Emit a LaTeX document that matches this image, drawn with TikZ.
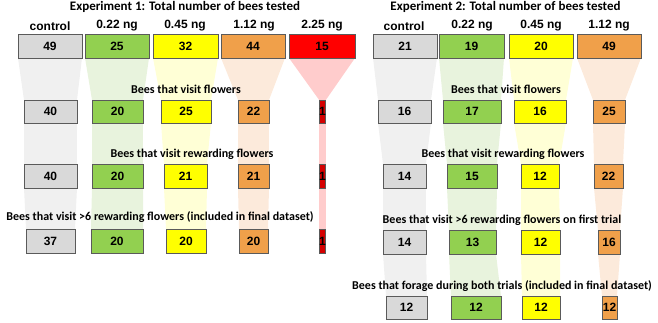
\documentclass[tikz,border=0pt]{standalone}
\usepackage{fontspec}
\setmainfont{Carlito}
\newfontfamily\arialb{Liberation Sans}
\usetikzlibrary{backgrounds}
\definecolor{cgray}{HTML}{D9D9D9}
\definecolor{cgreen}{HTML}{92D050}
\definecolor{cyellow}{HTML}{FFFF00}
\definecolor{corange}{HTML}{F0A04A}
\definecolor{cred}{HTML}{FF0000}
\definecolor{cdred}{HTML}{D40000}
\definecolor{fgray}{HTML}{F0F0F0}
\definecolor{fgreen}{HTML}{E8F3DD}
\definecolor{fyellow}{HTML}{FFFFD6}
\definecolor{forange}{HTML}{FCEADB}
\definecolor{fred}{HTML}{FFCCCC}
\definecolor{bord}{HTML}{5A5A5A}
\tikzset{
  numbox/.style={draw=bord, line width=0.9pt, inner sep=0pt, outer sep=0pt,
    font=\arialb\bfseries\fontsize{12}{12}\selectfont},
  collabel/.style={font=\arialb\bfseries\fontsize{12}{12}\selectfont, inner sep=0pt},
  steplabel/.style={font=\bfseries\fontsize{12}{12}\selectfont, inner sep=0pt},
  header/.style={font=\bfseries\fontsize{13}{13}\selectfont, inner sep=0pt},
}
\newcommand{\bx}[6]{\node[numbox, fill=#2, minimum width=#4pt, minimum height=#5pt] (#1) at (#3) {#6};}
\newcommand{\fun}[3]{\fill[#3] (#1.south west) -- (#1.south east) -- (#2.north east) -- (#2.north west) -- cycle;}
\begin{document}
\begin{tikzpicture}[x=1pt,y=-1pt]
\useasboundingbox (0,0) rectangle (658,322);
% headers
\node[header] (h1) at (185,7) {Experiment 1: Total number of bees tested};
\node[header] (h2) at (505.5,7) {Experiment 2: Total number of bees tested};
% column labels exp1
\node[collabel] (l1a) at (50,26) {control};
\node[collabel] (l1b) at (117,26) {0.22 ng};
\node[collabel] (l1c) at (185,26) {0.45 ng};
\node[collabel] (l1d) at (254,26) {1.12 ng};
\node[collabel] (l1e) at (322,26) {2.25 ng};
% column labels exp2
\node[collabel] (l2a) at (404,26) {control};
\node[collabel] (l2b) at (472,26) {0.22 ng};
\node[collabel] (l2c) at (541,26) {0.45 ng};
\node[collabel] (l2d) at (609,26) {1.12 ng};
% step labels exp1
\node[steplabel] (s1a) at (186,89) {Bees that visit flowers};
\node[steplabel] (s1b) at (192,154) {Bees that visit rewarding flowers};
\node[steplabel] (s1c) at (160,217) {Bees that visit >6 rewarding flowers (included in final dataset)};
% step labels exp2
\node[steplabel] (s2a) at (506,89) {Bees that visit flowers};
\node[steplabel] (s2b) at (503,154) {Bees that visit rewarding flowers};
\node[steplabel] (s2c) at (502,220) {Bees that visit >6 rewarding flowers on first trial};
\node[steplabel] (s2d) at (502,286) {Bees that forage during both trials (included in final dataset)};
% exp1 boxes
\bx{a1}{cgray}{50,46}{64}{24}{49}
\bx{b1}{cgreen}{117,46}{64}{24}{25}
\bx{c1}{cyellow}{185.5,46}{65}{24}{32}
\bx{d1}{corange}{253,46}{64}{24}{44}
\bx{e1}{cred}{322,46}{66}{24}{15}
\bx{a2}{cgray}{50.5,111.5}{53}{23}{40}
\bx{b2}{cgreen}{117.5,111.5}{51}{23}{20}
\bx{c2}{cyellow}{186,111.5}{50}{23}{25}
\bx{d2}{corange}{253.5,111.5}{31}{23}{22}
\bx{e2}{cdred}{322.5,111.5}{5}{23}{1}
\bx{a3}{cgray}{50.5,176}{53}{24}{40}
\bx{b3}{cgreen}{117.5,176}{51}{24}{20}
\bx{c3}{cyellow}{185.5,176}{43}{24}{21}
\bx{d3}{corange}{253.5,176}{31}{24}{21}
\bx{e3}{cdred}{322.5,176}{5}{24}{1}
\bx{a4}{cgray}{50.5,241}{49}{24}{37}
\bx{b4}{cgreen}{117,241}{52}{24}{20}
\bx{c4}{cyellow}{186,241}{40}{24}{20}
\bx{d4}{corange}{253.5,241}{29}{24}{20}
\bx{e4}{cdred}{322.5,241}{5}{24}{1}
% exp2 boxes
\bx{f1}{cgray}{405,46}{64}{24}{21}
\bx{g1}{cgreen}{471.5,46}{65}{24}{19}
\bx{h1}{cyellow}{541,46}{64}{24}{20}
\bx{i1}{corange}{609,46}{64}{24}{49}
\bx{f2}{cgray}{404.5,111.5}{53}{23}{16}
\bx{g2}{cgreen}{472,111.5}{58}{23}{17}
\bx{h2b}{cyellow}{540,111.5}{52}{23}{16}
\bx{i2}{corange}{609,111.5}{32}{23}{25}
\bx{f3}{cgray}{404.5,176}{43}{24}{14}
\bx{g3}{cgreen}{472,176}{50}{24}{15}
\bx{h3}{cyellow}{540,176}{38}{24}{12}
\bx{i3}{corange}{608.5,176}{29}{24}{22}
\bx{f4}{cgray}{404.5,242}{43}{24}{14}
\bx{g4}{cgreen}{472.5,242}{47}{24}{13}
\bx{h4}{cyellow}{540.5,242}{39}{24}{12}
\bx{i4}{corange}{609,242}{22}{24}{16}
\bx{f5}{cgray}{406.5,307.5}{41}{23}{12}
\bx{g5}{cgreen}{476,307.5}{50}{23}{12}
\bx{h5}{cyellow}{541,307.5}{38}{23}{12}
\bx{i5}{corange}{609.5,307.5}{15}{23}{12}
\begin{scope}[on background layer]
\fun{a1}{a2}{fgray}\fun{a2}{a3}{fgray}\fun{a3}{a4}{fgray}
\fun{b1}{b2}{fgreen}\fun{b2}{b3}{fgreen}\fun{b3}{b4}{fgreen}
\fun{c1}{c2}{fyellow}\fun{c2}{c3}{fyellow}\fun{c3}{c4}{fyellow}
\fun{d1}{d2}{forange}\fun{d2}{d3}{forange}\fun{d3}{d4}{forange}
\fun{e1}{e2}{fred}\fun{e2}{e3}{fred}\fun{e3}{e4}{fred}
\fun{f1}{f2}{fgray}\fun{f2}{f3}{fgray}\fun{f3}{f4}{fgray}\fun{f4}{f5}{fgray}
\fun{g1}{g2}{fgreen}\fun{g2}{g3}{fgreen}\fun{g3}{g4}{fgreen}\fun{g4}{g5}{fgreen}
\fun{h1}{h2b}{fyellow}\fun{h2b}{h3}{fyellow}\fun{h3}{h4}{fyellow}\fun{h4}{h5}{fyellow}
\fun{i1}{i2}{forange}\fun{i2}{i3}{forange}\fun{i3}{i4}{forange}\fun{i4}{i5}{forange}
\end{scope}
\end{tikzpicture}
\end{document}
